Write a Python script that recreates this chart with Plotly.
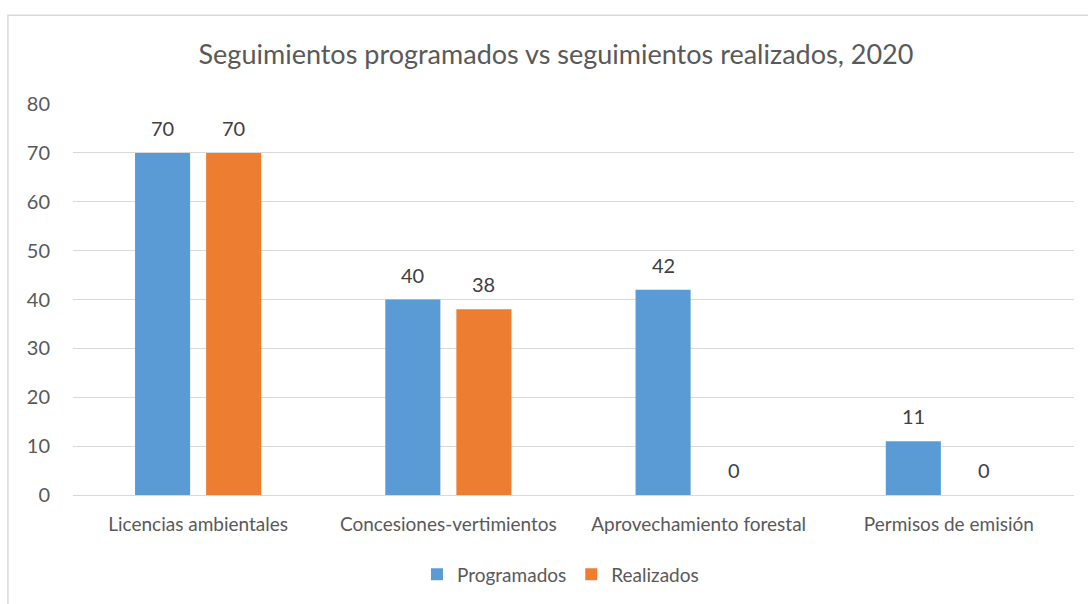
import plotly.graph_objects as go

# Seguimientos por trámite, 2020
categorias = ["Licencias ambientales", "Concesiones-vertimientos",
              "Aprovechamiento forestal", "Permisos de emisión"]
programados = [70, 40, 42, 11]
realizados = [70, 38, 0, 0]

azul = "#5B9BD5"
naranja = "#ED7D31"
texto = "#595959"
etiqueta = "#404040"
fuente = "Lato"

fig = go.Figure()
fig.add_trace(go.Bar(name="Programados", x=categorias, y=programados,
                     marker=dict(color=azul, line=dict(width=0))))
fig.add_trace(go.Bar(name="Realizados", x=categorias, y=realizados,
                     marker=dict(color=naranja, line=dict(width=0))))

# value labels above each bar, shifted to its slot within the group
anotaciones = []
for serie, desplaz in ((programados, -35.5), (realizados, 35.5)):
    for cat, v in zip(categorias, serie):
        anotaciones.append(dict(
            x=cat, y=v, xref="x", yref="y", text=str(v), showarrow=False,
            xshift=desplaz, yshift=25, yanchor="middle", xanchor="center",
            font=dict(size=20, color=etiqueta, family=fuente)))

fig.update_layout(
    width=1088, height=604,
    margin=dict(l=73, r=14, t=104, b=108),
    paper_bgcolor="white", plot_bgcolor="white",
    barmode="group", bargap=0.432, bargroupgap=0.225,
    font=dict(family=fuente, color=texto, size=16),
    title=dict(text="Seguimientos programados vs seguimientos realizados, 2020",
               x=0.511, xanchor="center", y=0.909, yanchor="middle",
               font=dict(size=27, color=texto, family=fuente)),
    legend=dict(orientation="h", x=0.487, xanchor="center", y=-0.2, yanchor="middle",
                font=dict(size=19, color=texto, family=fuente),
                itemwidth=30, traceorder="normal"),
    xaxis=dict(showgrid=False, showline=False, ticks="", ticklabelstandoff=16,
               tickfont=dict(size=19, color=texto, family=fuente)),
    yaxis=dict(range=[0, 80], dtick=10, showgrid=True, gridcolor="#D9D9D9",
               gridwidth=1, zeroline=True, zerolinecolor="#D9D9D9", zerolinewidth=1,
               showline=False, ticks="", ticklabelstandoff=22,
               tickfont=dict(size=20, color=texto, family=fuente)),
    annotations=anotaciones,
    shapes=[dict(type="rect", xref="paper", yref="paper",
                 x0=-0.065, x1=1.03, y0=-0.4, y1=1.227,
                 line=dict(color="#D9D9D9", width=1.5), fillcolor="rgba(0,0,0,0)",
                 layer="below")],
)

fig.write_html("out.html")
